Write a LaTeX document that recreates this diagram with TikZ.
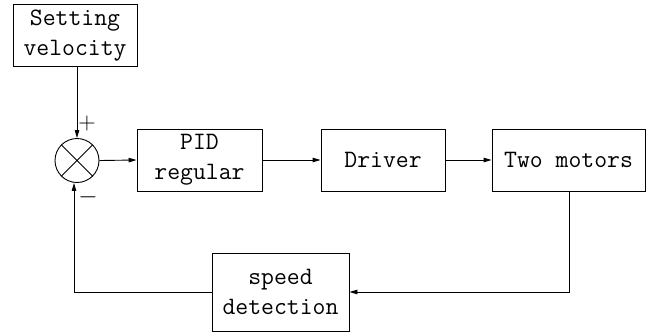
\documentclass[tikz,border=0pt]{standalone}
\usetikzlibrary{arrows.meta}
\begin{document}
\begin{tikzpicture}[x=1pt,y=-1pt,
  blk/.style={draw,line width=0.9pt,inner sep=0pt,align=center,
    font=\ttfamily\fontsize{25}{30}\selectfont},
  conn/.style={line width=0.9pt,-{Triangle[length=8pt,width=4.5pt]}},
  wire/.style={line width=0.9pt}]
\useasboundingbox (0,0) rectangle (652,335);
\node[blk,minimum width=124pt,minimum height=62pt] (sv) at (75,35.5) {Setting\\velocity};
\node[draw,circle,line width=0.9pt,minimum size=44pt,inner sep=0pt] (sum) at (77,160.5) {};
\draw[line width=0.9pt] (sum.north west) -- (sum.south east) (sum.north east) -- (sum.south west);
\node[blk,minimum width=125pt,minimum height=62pt] (pid) at (199.5,160) {PID\\regular};
\node[blk,minimum width=124pt,minimum height=62pt] (drv) at (383,160) {Driver};
\node[blk,minimum width=153pt,minimum height=62pt] (mot) at (568.5,160) {Two motors};
\node[blk,minimum width=137pt,minimum height=78pt] (sd) at (280.5,292) {speed\\detection};
\node[font=\fontsize{24}{26}\selectfont,inner sep=0pt] (plus) at (87,124) {+};
\node[font=\fontsize{24}{26}\selectfont,inner sep=0pt] (minus) at (88,197) {$-$};
\draw[conn] (sv.south -| sum.north) -- (sum.north);
\draw[conn] (sum.east) -- (pid.west);
\draw[conn] (pid.east) -- (drv.west);
\draw[conn] (drv.east) -- (mot.west);
\coordinate (c1) at (569,292);
\coordinate (c2) at (74,292);
\draw[conn] (mot.south -| c1) -- (c1) -- (sd.east);
\draw[conn] (sd.west) -- (c2) -- (sum.south -| c2);
\end{tikzpicture}
\end{document}
